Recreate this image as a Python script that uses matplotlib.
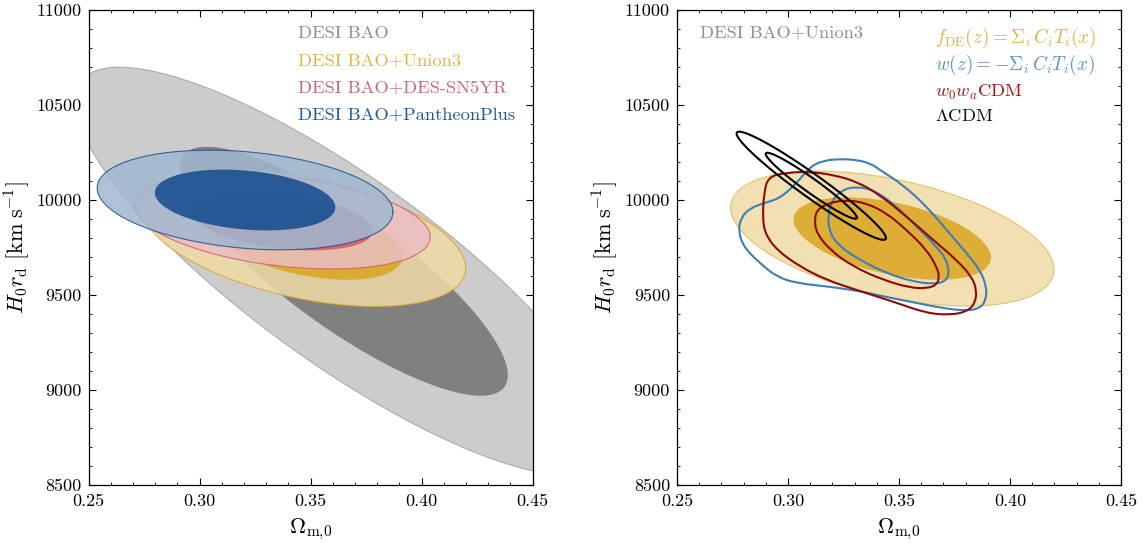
import numpy as np
import matplotlib
matplotlib.use("Agg")
import matplotlib.pyplot as plt
from matplotlib.ticker import MultipleLocator
from matplotlib.path import Path
from matplotlib.patches import PathPatch

plt.rcParams["font.family"] = "serif"
plt.rcParams["font.serif"] = ["cmr10"]
plt.rcParams["mathtext.fontset"] = "cm"
plt.rcParams["axes.formatter.use_mathtext"] = True
plt.rcParams["axes.unicode_minus"] = False

# ---------------- data ----------------
# confidence levels (68%, 95%) as chi^2 values for 2 parameters
chi2_levels = [2.30, 6.18]

# Left panel: Gaussian approximations of posteriors (Omega_m, H0 rd)
left_labels = ["DESI BAO", "DESI BAO+Union3", "DESI BAO+DES-SN5YR", "DESI BAO+PantheonPlus"]
left_om_mean = [0.365, 0.347, 0.3373, 0.3205]
left_h_mean = [9625, 9800, 9888, 10000]
left_om_sigma = [0.0487, 0.0293, 0.0268, 0.0268]
left_h_sigma = [432, 145, 101, 105.5]
left_corr = [-0.835, -0.44, -0.33, -0.24]
left_colors = ["#808080", "#DAA520", "#CC5A66", "#124A8C"]
left_text_colors = ["#8E8E8E", "#E3B445", "#CC6674", "#1F5A9C"]

# Right panel: f_DE model (filled) and LCDM (Gaussian approx.)
fde_om_mean, fde_h_mean = 0.347, 9797
fde_om_sigma, fde_h_sigma, fde_corr = 0.0293, 143, -0.46
lcdm_om_mean, lcdm_h_mean = 0.3105, 10075
lcdm_om_sigma, lcdm_h_sigma, lcdm_corr = 0.01353, 114.5, -0.965

# Right panel: w(z) contours (95%, 68%)
wz_outer_om = [0.2776, 0.2791, 0.2829, 0.2889, 0.2964, 0.3039, 0.3099, 0.3159, 0.3234, 0.3310,
               0.3370, 0.3415, 0.3519, 0.3625, 0.3715, 0.3805, 0.3865, 0.3895, 0.3892, 0.3865,
               0.3805, 0.3700, 0.3550, 0.3400, 0.3339, 0.3189, 0.3039, 0.2949, 0.2874, 0.2799]
wz_outer_h = [9842, 9912, 9956, 9983, 10009, 10088, 10175, 10207, 10216, 10211,
              10193, 10158, 10079, 9965, 9842, 9720, 9632, 9544, 9474, 9430,
              9417, 9430, 9465, 9500, 9517, 9544, 9562, 9596, 9667, 9754]
wz_inner_om = [0.3179, 0.3197, 0.3249, 0.3310, 0.3384, 0.3474, 0.3580, 0.3670, 0.3715, 0.3727,
               0.3707, 0.3655, 0.3565, 0.3445, 0.3324, 0.3234, 0.3189]
wz_inner_h = [9912, 10000, 10056, 10070, 10053, 9983, 9860, 9754, 9684, 9614,
              9570, 9558, 9570, 9614, 9684, 9754, 9825]

# Right panel: w0waCDM contours (95%, 68%)
w0wa_outer_om = [0.2911, 0.2994, 0.3099, 0.3204, 0.3310, 0.3415, 0.3535, 0.3655, 0.3760, 0.3828,
                 0.3850, 0.3843, 0.3805, 0.3730, 0.3625, 0.3474, 0.3310, 0.3174, 0.3054, 0.2949,
                 0.2896, 0.2886, 0.2892]
w0wa_outer_h = [10123, 10144, 10149, 10132, 10097, 10026, 9912, 9789, 9684, 9596,
                9526, 9456, 9412, 9395, 9404, 9465, 9526, 9579, 9649, 9737,
                9825, 9912, 10035]
w0wa_inner_om = [0.3119, 0.3132, 0.3189, 0.3265, 0.3355, 0.3445, 0.3535, 0.3625, 0.3670, 0.3682,
                 0.3670, 0.3625, 0.3550, 0.3429, 0.3294, 0.3189, 0.3129]
w0wa_inner_h = [9895, 9951, 9986, 10000, 9983, 9930, 9842, 9737, 9649, 9596,
                9553, 9535, 9538, 9579, 9649, 9737, 9825]

right_labels = [r"$f_{\rm DE}(z) = \Sigma_i\, C_i T_i(x)$",
                r"$w(z) = -\Sigma_i\, C_i T_i(x)$",
                r"$w_0w_a$CDM",
                r"$\Lambda$CDM"]
right_label_sizes = [13.8, 13.8, 13.3, 13.3]
right_text_colors = ["#E3B445", "#5B92C8", "#A01515", "#111111"]
wz_color = "#3F7DB6"
w0wa_color = "#8E0A0A"
lcdm_color = "#000000"

x_lim = (0.25, 0.45)
y_lim = (8500, 11000)


# ---------------- helpers ----------------
def gauss_contour(mx, my, sx, sy, rho, chi2, n=400):
    t = np.linspace(0, 2 * np.pi, n)
    k = np.sqrt(chi2)
    x = mx + k * sx * np.cos(t)
    y = my + k * sy * (rho * np.cos(t) + np.sqrt(1 - rho ** 2) * np.sin(t))
    return x, y


def pale(color, f=0.6):
    c = np.array(matplotlib.colors.to_rgb(color))
    return tuple(c * (1 - f) + f)


def filled_pair(ax, mx, my, sx, sy, rho, color, alpha, z, edge_alpha):
    xo, yo = gauss_contour(mx, my, sx, sy, rho, chi2_levels[1])
    xi, yi = gauss_contour(mx, my, sx, sy, rho, chi2_levels[0])
    ax.fill(xo, yo, color=pale(color), alpha=alpha, lw=0, zorder=z)
    ax.fill(xi, yi, color=color, alpha=alpha, lw=0, zorder=z)
    ax.plot(xo, yo, color=color, alpha=edge_alpha, lw=0.8, zorder=z)


def smooth_closed(ax, xs, ys, color, lw, z):
    pts = np.column_stack([xs, ys])
    n = len(pts)
    mids = 0.5 * (pts + np.roll(pts, -1, axis=0))
    verts = [mids[-1]]
    codes = [Path.MOVETO]
    for i in range(n):
        verts += [pts[i], mids[i]]
        codes += [Path.CURVE3, Path.CURVE3]
    patch = PathPatch(Path(verts, codes), facecolor="none", edgecolor=color, lw=lw,
                      zorder=z, joinstyle="round")
    ax.add_patch(patch)


def style_axes(ax):
    ax.set_xlim(*x_lim)
    ax.set_ylim(*y_lim)
    ax.xaxis.set_major_locator(MultipleLocator(0.05))
    ax.xaxis.set_minor_locator(MultipleLocator(0.01))
    ax.yaxis.set_major_locator(MultipleLocator(500))
    ax.yaxis.set_minor_locator(MultipleLocator(100))
    ax.xaxis.set_major_formatter(matplotlib.ticker.FormatStrFormatter("%.2f"))
    ax.yaxis.set_major_formatter(matplotlib.ticker.FormatStrFormatter("%d"))
    ax.tick_params(which="both", direction="in", top=True, right=True, labelsize=13)
    ax.tick_params(which="major", length=5, width=0.8, pad=6)
    ax.tick_params(which="minor", length=2.5, width=0.6)
    ax.tick_params(axis="y", pad=5)
    ax.set_xlabel(r"$\Omega_{\mathrm{m},\!0}$", fontsize=16, labelpad=6)
    ax.set_ylabel(r"$H_0 r_{\mathrm{d}}\ [\mathrm{km}\;\mathrm{s}^{-1}]$", fontsize=16, labelpad=3)
    for s in ax.spines.values():
        s.set_linewidth(0.9)


# ---------------- figure ----------------
fig = plt.figure(figsize=(11.47, 5.43), dpi=100)
axL = fig.add_axes([0.0772, 0.1068, 0.3871, 0.8748])
axR = fig.add_axes([0.5902, 0.1068, 0.3871, 0.8748])

# Left panel
for i in range(len(left_labels)):
    alpha = 1.0 if i == 0 else 0.85
    edge_a = 0.55 if i == 0 else 0.8
    filled_pair(axL, left_om_mean[i], left_h_mean[i], left_om_sigma[i], left_h_sigma[i],
                left_corr[i], left_colors[i], alpha, 2 + i, edge_a)
text_y = [0.951, 0.893, 0.836, 0.779]
for i, lab in enumerate(left_labels):
    axL.text(0.4716, text_y[i], lab, transform=axL.transAxes, color=left_text_colors[i],
             fontsize=13.3, ha="left", va="center", zorder=10)
style_axes(axL)

# Right panel
filled_pair(axR, fde_om_mean, fde_h_mean, fde_om_sigma, fde_h_sigma, fde_corr,
            left_colors[1], 0.85, 2, 0.6)
smooth_closed(axR, wz_outer_om, wz_outer_h, wz_color, 1.5, 4)
smooth_closed(axR, wz_inner_om, wz_inner_h, wz_color, 1.5, 4)
smooth_closed(axR, w0wa_outer_om, w0wa_outer_h, w0wa_color, 1.5, 5)
smooth_closed(axR, w0wa_inner_om, w0wa_inner_h, w0wa_color, 1.5, 5)
for chi2 in chi2_levels:
    xl, yl = gauss_contour(lcdm_om_mean, lcdm_h_mean, lcdm_om_sigma, lcdm_h_sigma, lcdm_corr, chi2)
    axR.plot(xl, yl, color=lcdm_color, lw=1.5, zorder=6)

axR.text(0.052, 0.951, "DESI BAO+Union3", transform=axR.transAxes, color="#8E8E8E",
         fontsize=13.3, ha="left", va="center", zorder=10)
right_y = [0.941, 0.884, 0.826, 0.776]
for i, lab in enumerate(right_labels):
    axR.text(0.581, right_y[i], lab, transform=axR.transAxes, color=right_text_colors[i],
             fontsize=right_label_sizes[i], ha="left", va="center", zorder=10)
style_axes(axR)

fig.savefig("out.png", dpi=100)
